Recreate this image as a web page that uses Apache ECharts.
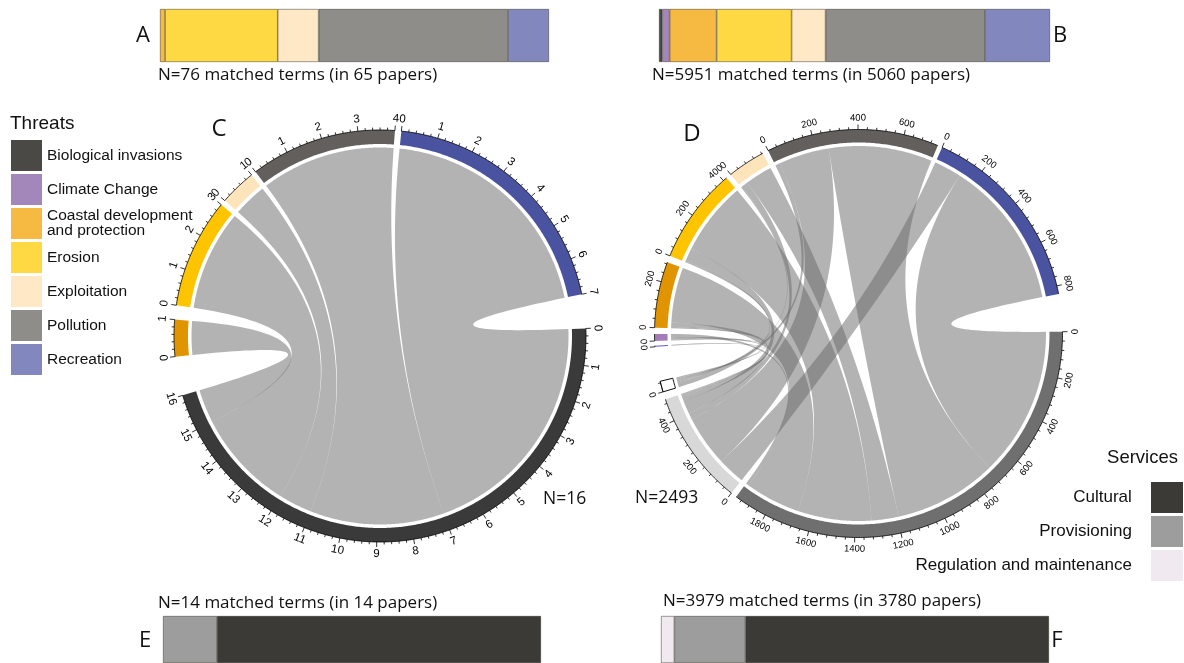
<!DOCTYPE html>
<html><head><meta charset="utf-8">
<script src="https://cdn.jsdelivr.net/npm/echarts@6/dist/echarts.min.js"></script>
<style>html,body{margin:0;padding:0;background:#fff}#c{width:1184px;height:663px}</style>
</head><body><div id="c"></div>
<script>
// ---------------- DATA ----------------
const threatNames = ['Biological invasions','Climate Change','Coastal development\nand protection','Erosion','Exploitation','Pollution','Recreation'];
const serviceNames = ['Cultural','Provisioning','Regulation and maintenance'];
// stacked bars (counts of matched terms)
const barACounts = [0, 0, 1, 22, 8, 37, 8];
const barBCounts = [50, 112, 715, 1141, 517, 2425, 991];
const barAPapers = 65, barBPapers = 5060;
const barECounts = [12, 2, 0];      // Cultural, Provisioning, Regulation
const barFCounts = [3113, 729, 137];
const barEPapers = 14, barFPapers = 3780;
// chord C : rows = threats, cols = services
const chordCThreats = ['Coastal development and protection','Erosion','Exploitation','Pollution','Recreation'];
const chordCServices = ['Cultural'];
const chordCMatrix = [[1],[3],[1],[4],[7]];
// chord D
const chordDThreats = ['Biological invasions','Climate Change','Coastal development and protection','Erosion','Exploitation','Pollution','Recreation'];
const chordDServices = ['Cultural','Provisioning','Regulation and maintenance'];
const chordDMatrix = [
  [0, 5, 0],
  [15, 10, 5],
  [260, 22, 6],
  [349, 60, 9],
  [128, 32, 5],
  [490, 240, 22],
  [705, 130, 0]
];

// ---------------- STYLE / LAYOUT ----------------
const threatColors = ['#4b4946','#a487ba','#f6b941','#fed944','#fee8c6','#8f8d89','#8287be'];
const serviceColors = ['#3c3a37','#9d9d9d','#f0eaf0'];
const chordCColors = ['#3a3a3a','#e09500','#ffc400','#fde4bb','#635f5d','#4a53a0'];
const chordCStrokes = [null,null,null,null,null,null];
const chordDColors = ['#6f6f6f','#d8d8d8','#ffffff','#5b5bd0','#a27db9','#e09500','#ffc400','#fde4bb','#635f5d','#4a53a0'];
const chordDStrokes = [null,null,'#111',null,null,null,null,null,null,null];
const layCfg = {
  C: {gaps:[11, 4, 1.5, 1.4, 1.8, 9.6], start:-2.1, center:[380,336], R:206, band:14, major:1, minor:0.2, font:11.5, labOff:12},
  D: {gaps:[1.7, 2.2, 9.8, 1.3, 1.8, 1.9, 1.5, 1.7, 1.3, 10.7], start:-0.5, center:[858.5,333.5], R:204, band:13, major:200, minor:40, font:9.5, labOff:11.5}
};

const sum = a => a.reduce((x,y)=>x+y,0);

function layoutChord(matrix, gapsDeg, startDeg) {
  const nr = matrix.length, nc = matrix[0].length;
  const rowSums = matrix.map(r => sum(r));
  const colSums = [];
  for (let j=0;j<nc;j++){ let s=0; for (let i=0;i<nr;i++) s+=matrix[i][j]; colSums.push(s); }
  const sizes = colSums.concat(rowSums);
  const total = sum(sizes);
  const k = (360 - sum(gapsDeg)) / total;
  const U = 360 / k;
  let pos = 0;
  const sectors = sizes.map((sz,i)=>{ const s={start:pos,size:sz}; pos += sz + gapsDeg[i]/k; return s; });
  const srcR = matrix.map(r=>r.map(()=>null)), tgtR = matrix.map(r=>r.map(()=>null));
  for (let i=0;i<nr;i++){ let o=0; for (let j=nc-1;j>=0;j--){ const v=matrix[i][j]; if(v>0){ srcR[i][j]=[o,o+v]; o+=v; } } }
  for (let j=0;j<nc;j++){ let o=0; for (let i=nr-1;i>=0;i--){ const v=matrix[i][j]; if(v>0){ tgtR[i][j]=[o,o+v]; o+=v; } } }
  const links = [];
  for (let i=0;i<nr;i++) for (let j=0;j<nc;j++) if (matrix[i][j]>0) links.push({src:nc+i, tgt:j, a:srcR[i][j], b:tgtR[i][j]});
  return {sectors, links, U, k, total, startDeg};
}

const layC = layoutChord(chordCMatrix, layCfg.C.gaps, layCfg.C.start);
const layD = layoutChord(chordDMatrix, layCfg.D.gaps, layCfg.D.start);

function arcPts(api, lay, r, u0, u1) {
  const steps = Math.max(2, Math.ceil(Math.abs(u1-u0) / lay.U * 360 * 2));
  const pts = [];
  for (let t=0;t<=steps;t++) pts.push(api.coord([r, u0 + (u1-u0)*t/steps]));
  return pts;
}
function bezPts(p0, c, p2) {
  const pts = [];
  const n = 48;
  for (let t=1;t<n;t++){ const s=t/n, a=(1-s)*(1-s), b=2*(1-s)*s, d=s*s;
    pts.push([a*p0[0]+b*c[0]+d*p2[0], a*p0[1]+b*c[1]+d*p2[1]]); }
  return pts;
}

function chordSeries(lay, cfg, pIdx, colors, strokes) {
  const R = cfg.R, Rin = cfg.R - cfg.band, Rr = Rin - 3.5;
  const ribbons = {
    type:'custom', coordinateSystem:'polar', polarIndex:pIdx, silent:true, z:1,
    data: lay.links.map((L,i)=>[Rr, lay.sectors[L.src].start + L.a[0], i]),
    renderItem(params, api) {
      const L = lay.links[api.value(2)];
      const sa = lay.sectors[L.src].start, sb = lay.sectors[L.tgt].start;
      const a1 = sa+L.a[0], a2 = sa+L.a[1], b1 = sb+L.b[0], b2 = sb+L.b[1];
      const c = api.coord([0,0]);
      let pts = arcPts(api, lay, Rr, a1, a2);
      pts = pts.concat(bezPts(api.coord([Rr,a2]), c, api.coord([Rr,b1])));
      pts = pts.concat(arcPts(api, lay, Rr, b1, b2));
      pts = pts.concat(bezPts(api.coord([Rr,b2]), c, api.coord([Rr,a1])));
      return {type:'polygon', shape:{points:pts}, style:{fill:'rgba(104,104,104,0.5)'}};
    }
  };
  const sectors = {
    type:'custom', coordinateSystem:'polar', polarIndex:pIdx, silent:true, z:2,
    data: lay.sectors.map((s,i)=>[R, s.start, i]),
    renderItem(params, api) {
      const i = api.value(2), s = lay.sectors[i];
      const pts = arcPts(api, lay, R, s.start, s.start+s.size).concat(arcPts(api, lay, Rin, s.start+s.size, s.start));
      const st = {fill: colors[i]};
      if (strokes[i]) { st.stroke = strokes[i]; st.lineWidth = 1; }
      return {type:'polygon', shape:{points:pts}, style:st};
    }
  };
  const axes = {
    type:'custom', coordinateSystem:'polar', polarIndex:pIdx, silent:true, z:3,
    data: lay.sectors.map((s,i)=>[R, s.start, i]),
    renderItem(params, api) {
      const s = lay.sectors[api.value(2)];
      const c = api.coord([0,0]);
      const children = [{type:'polyline', shape:{points:arcPts(api, lay, R, s.start, s.start+s.size)}, style:{stroke:'#000', lineWidth:0.8, fill:null}}];
      const n = Math.floor(s.size/cfg.minor + 1e-9);
      for (let m=0;m<=n;m++){
        const v = m*cfg.minor;
        const isMajor = Math.abs(v/cfg.major - Math.round(v/cfg.major)) < 1e-6;
        const len = isMajor ? 5 : 2.5;
        const p0 = api.coord([R, s.start+v]), p1 = api.coord([R+len, s.start+v]);
        children.push({type:'line', shape:{x1:p0[0],y1:p0[1],x2:p1[0],y2:p1[1]}, style:{stroke:'#000', lineWidth:0.8}});
        if (isMajor) {
          const pl = api.coord([R+cfg.labOff, s.start+v]);
          let th = Math.atan2(pl[1]-c[1], pl[0]-c[0]) * 180/Math.PI;
          let phi = th + 90;
          while (phi > 90) phi -= 180;
          while (phi <= -90) phi += 180;
          children.push({type:'text', x:pl[0], y:pl[1], rotation:-phi*Math.PI/180,
            style:{text:String(Math.round(v)), fill:'#000', font: cfg.font+'px "Liberation Sans"', align:'center', verticalAlign:'middle'}});
        }
      }
      return {type:'group', children};
    }
  };
  return [ribbons, sectors, axes];
}

// ---------------- BARS ----------------
function barSeries(counts, names, colors, gi, reverse) {
  const idx = counts.map((_,i)=>i);
  if (reverse) idx.reverse();
  return idx.filter(i=>counts[i]>0).map(i=>({
    type:'bar', name:names[i], stack:'s'+gi, xAxisIndex:gi, yAxisIndex:gi, barWidth:'100%', silent:true,
    data:[counts[i]], itemStyle:{color:colors[i], borderColor:'rgba(40,40,30,0.75)', borderWidth:0.6}
  }));
}
const barGrids = [
  {left:160, top:9, width:389, height:53},
  {left:659, top:9, width:391, height:53},
  {left:163, top:616, width:378, height:47},
  {left:661, top:616, width:388, height:47}
];
const barTotals = [sum(barACounts), sum(barBCounts), sum(barECounts), sum(barFCounts)];

const series = [].concat(
  barSeries(barACounts, threatNames, threatColors, 0, false),
  barSeries(barBCounts, threatNames, threatColors, 1, false),
  barSeries(barECounts, serviceNames, serviceColors, 2, true),
  barSeries(barFCounts, serviceNames, serviceColors, 3, true),
  chordSeries(layC, layCfg.C, 0, chordCColors, chordCStrokes),
  chordSeries(layD, layCfg.D, 1, chordDColors, chordDStrokes)
);

const big = '"Open Sans", sans-serif';
const helv = '"Liberation Sans", Arial, sans-serif';
function txt(text, x, y, size, fam, align) {
  return {type:'text', x, y, silent:true, style:{text, fill:'#111', font: size+'px '+fam, align: align||'left', verticalAlign:'middle'}};
}

const option = {
  animation:false,
  backgroundColor:'#fff',
  grid: barGrids,
  xAxis: barGrids.map((g,i)=>({gridIndex:i, type:'value', min:0, max:barTotals[i], show:false})),
  yAxis: barGrids.map((g,i)=>({gridIndex:i, type:'category', data:['n'], show:false})),
  polar: [
    {center: layCfg.C.center, radius: layCfg.C.R},
    {center: layCfg.D.center, radius: layCfg.D.R}
  ],
  angleAxis: [
    {polarIndex:0, type:'value', min:0, max:layC.U, startAngle:-layC.startDeg, clockwise:true, show:false},
    {polarIndex:1, type:'value', min:0, max:layD.U, startAngle:-layD.startDeg, clockwise:true, show:false}
  ],
  radiusAxis: [
    {polarIndex:0, type:'value', min:0, max:layCfg.C.R, show:false},
    {polarIndex:1, type:'value', min:0, max:layCfg.D.R, show:false}
  ],
  legend: [
    {data: threatNames, orient:'vertical', left:11, top:140, padding:0, itemWidth:31, itemHeight:31, itemGap:3, icon:'rect',
     selectedMode:false, itemStyle:{borderWidth:0},
     textStyle:{fontFamily:helv, fontSize:15.5, color:'#111', lineHeight:15}},
    {data: serviceNames, orient:'vertical', right:1, top:482, padding:0, itemWidth:32, itemHeight:31, itemGap:3, icon:'rect', align:'right',
     selectedMode:false, itemStyle:{borderWidth:0},
     formatter: n => n + '   ',
     textStyle:{fontFamily:helv, fontSize:17, color:'#111'}}
  ],
  graphic: {elements: [
    txt('A', 143, 36, 22, big, 'center'),
    txt('B', 1060, 36, 22, big, 'center'),
    txt('C', 219, 129, 24, big, 'center'),
    txt('D', 692, 134, 24, big, 'center'),
    txt('E', 145, 641, 22, big, 'center'),
    txt('F', 1057, 641, 22, big, 'center'),
    txt('N='+barTotals[0]+' matched terms (in '+barAPapers+' papers)', 158, 75, 17, big),
    txt('N='+barTotals[1]+' matched terms (in '+barBPapers+' papers)', 652, 75, 17, big),
    txt('N='+barTotals[2]+' matched terms (in '+barEPapers+' papers)', 158, 603, 17, big),
    txt('N='+barTotals[3]+' matched terms (in '+barFPapers+' papers)', 663, 601, 17, big),
    txt('N='+layC.total/2, 543, 499, 17.5, big),
    txt('N='+layD.total/2, 635, 498, 17.5, big),
    txt('Threats', 10, 124, 19, helv),
    txt('Services', 1178, 458, 18.5, helv, 'right')
  ]},
  series
};
const chart = echarts.init(document.getElementById('c'));
chart.setOption(option);
</script>
</body></html>
